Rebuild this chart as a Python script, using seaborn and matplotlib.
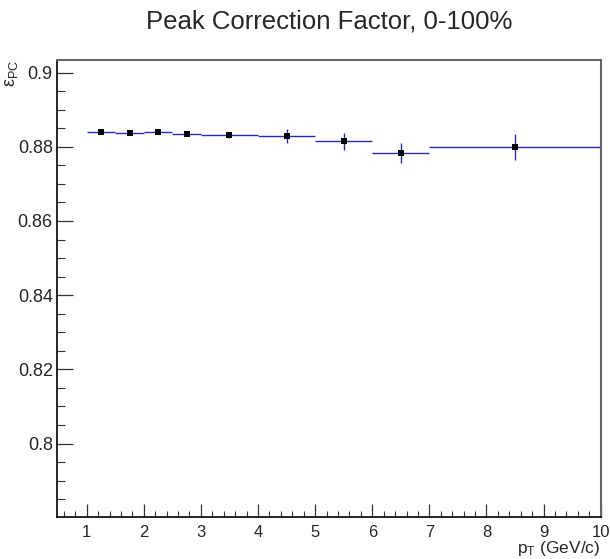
import numpy as np
import pandas as pd
import matplotlib
matplotlib.use("Agg")
import matplotlib.pyplot as plt
from matplotlib.ticker import MultipleLocator, FormatStrFormatter
import seaborn as sns

# ---- data ----
bin_low = [1.0, 1.5, 2.0, 2.5, 3.0, 4.0, 5.0, 6.0, 7.0]
bin_high = [1.5, 2.0, 2.5, 3.0, 4.0, 5.0, 6.0, 7.0, 10.0]
eps_pc = [0.8840, 0.8838, 0.8839, 0.8835, 0.8832, 0.8829, 0.8815, 0.8783, 0.8799]
eps_err = [0.0004, 0.0005, 0.0005, 0.0006, 0.0007, 0.0019, 0.0023, 0.0026, 0.0035]
x_ticks = [1, 2, 3, 4, 5, 6, 7, 8, 9, 10]

title = "Peak Correction Factor, 0-100%"

sns.set_theme(style="ticks")
plt.rcParams["font.family"] = ["Liberation Sans", "DejaVu Sans"]
plt.rcParams["mathtext.fontset"] = "custom"
plt.rcParams["mathtext.rm"] = "Liberation Sans"
plt.rcParams["mathtext.it"] = "Liberation Sans"

df = pd.DataFrame({
    "lo": bin_low, "hi": bin_high, "y": eps_pc, "err": eps_err,
})
df["x"] = (df["lo"] + df["hi"]) / 2
df["xerr"] = (df["hi"] - df["lo"]) / 2

fig = plt.figure(figsize=(6.10, 5.59), dpi=100)
ax = fig.add_axes([57 / 610, 1 - 517 / 559, (600.7 - 57) / 610, (517 - 60) / 559])

blue = "#2b2bb0"
ax.errorbar(df["x"], df["y"], xerr=df["xerr"], yerr=df["err"], fmt="none",
            ecolor=blue, elinewidth=1.0, capsize=0, zorder=2)
sns.scatterplot(data=df, x="x", y="y", marker="s", s=22, color="black",
                edgecolor="black", linewidth=0, ax=ax, zorder=3, legend=False)

ax.set_xlim(0.48, 10.0)
ax.set_ylim(0.7802, 0.9034)
ax.set_xlabel("")
ax.set_ylabel("")

ax.set_xticks(x_ticks)
ax.xaxis.set_minor_locator(MultipleLocator(0.2))
ax.yaxis.set_major_locator(MultipleLocator(0.02))
ax.yaxis.set_minor_locator(MultipleLocator(0.005))
ax.yaxis.set_major_formatter(FormatStrFormatter("%g"))
ax.xaxis.set_major_formatter(FormatStrFormatter("%g"))

ax.tick_params(axis="y", which="major", direction="in", length=11.5, width=0.9,
               labelsize=13, pad=3, color="#333333")
ax.tick_params(axis="y", which="minor", direction="in", length=5.8, width=0.8,
               color="#333333")
ax.tick_params(axis="x", which="major", direction="in", length=9.5, width=0.9,
               labelsize=12, pad=6, color="#333333")
ax.tick_params(axis="x", which="minor", direction="in", length=4.5, width=0.8,
               color="#333333")

for side in ["left", "bottom"]:
    ax.spines[side].set_color("black")
    ax.spines[side].set_linewidth(1.2)
for side in ["top", "right"]:
    ax.spines[side].set_visible(True)
    ax.spines[side].set_color("#666666")
    ax.spines[side].set_linewidth(1.5)

fig.text(329 / 610, 1 - 22 / 559, title, ha="center", va="center", fontsize=18.5)
fig.text(12 / 610, 1 - 60 / 559, r"ε$_{\rm PC}$", rotation=90, ha="center",
         va="top", fontsize=13)
fig.text(600 / 610, 1 - 553 / 559, r"p$_{\rm T}$ (GeV/c)", ha="right",
         va="baseline", fontsize=12.5)

fig.savefig("out.png", dpi=100)
